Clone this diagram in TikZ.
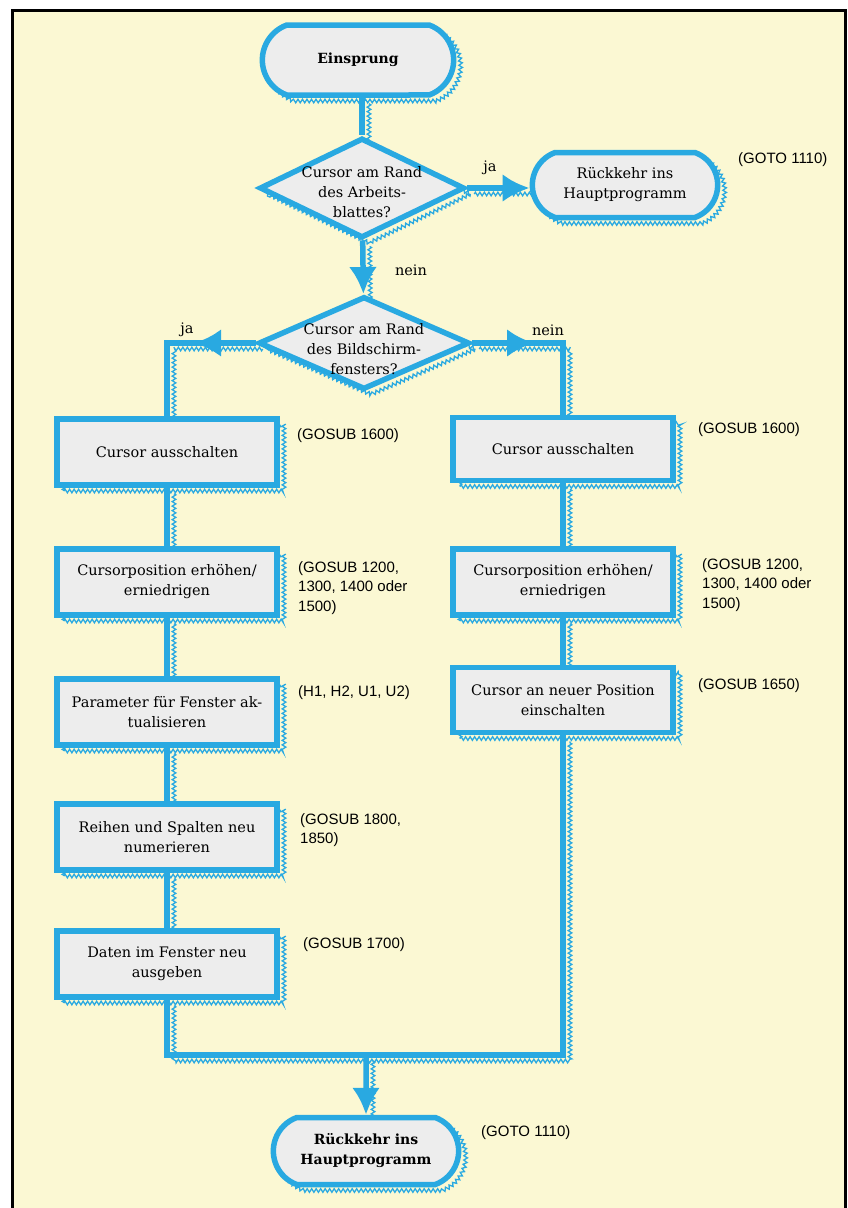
\documentclass[tikz,border=0pt]{standalone}
\usepackage{fontspec}
\usepackage{tikz}
\usetikzlibrary{arrows.meta,shapes.geometric,shapes.misc,decorations.pathmorphing,decorations.markings}
\newfontfamily\notefont{Liberation Sans}
\newfontfamily\boxfont{DejaVu Serif}
\definecolor{flow}{HTML}{29A9E1}
\definecolor{boxfill}{HTML}{EDEDED}
\definecolor{paper}{HTML}{FBF8D3}
\pgfdeclarelayer{links}
\pgfsetlayers{links,main}

\begin{document}
\begin{tikzpicture}[x=1pt,y=-1pt,
  jag/.style={preaction={draw=flow,fill=none,arrows=-,line width=1.3pt,
      decorate,decoration={zigzag,segment length=4.5pt,amplitude=1.8pt},
      transform canvas={shift={(7pt,-6pt)}}}},
  box/.style={rectangle,draw=flow,fill=boxfill,line width=5.5pt,jag,
      minimum width=220pt,minimum height=66pt,align=center,
      font=\boxfont\fontsize{14.5}{20}\selectfont},
  term/.style={box,rounded rectangle,rounded rectangle arc length=140,
      minimum width=192pt,minimum height=67pt},
  boldterm/.style={term,font=\boxfont\bfseries\fontsize{14}{20}\selectfont},
  decision/.style={box,diamond,inner sep=0pt},
  inbox/.style={align=center,inner sep=0pt,font=\boxfont\fontsize{14.5}{20}\selectfont},
  note/.style={anchor=north west,inner sep=0pt,align=left,
      font=\notefont\fontsize{15}{19.5}\selectfont},
  answer/.style={inner sep=0pt,font=\boxfont\fontsize{14.5}{20}\selectfont},
  link/.style={draw=flow,line width=5.5pt,jag},
  tip/.style={-{Latex[length=27pt,width=28pt]}},
  midtip/.style={postaction={decorate,decoration={markings,
      mark=at position #1 with {\arrow{Latex[length=27pt,width=28pt]}}}}}]
  \useasboundingbox (0,0) rectangle (848,1208);
  \begin{pgfonlayer}{links}
    \fill[white] (0,0) rectangle (848,1208);
    \fill[paper] (12,10) rectangle (845,1208);
    \draw[line width=3pt] (12,1208) -- (12,10) -- (845,10) -- (845,1208);
  \end{pgfonlayer}

  % main axis
  \node[boldterm,minimum width=198pt,minimum height=70pt] (start) at (358,60) {Einsprung};
  \node[decision,minimum width=205pt,minimum height=100pt] (d1) at (362,188) {};
  \node[inbox] (d1text) at ([yshift=-4pt]d1.center) {Cursor am Rand\\des Arbeits-\\blattes?};
  \node[term,minimum height=65pt] (back) at (625,185) {Rückkehr ins\\Hauptprogramm};
  \node[decision,minimum width=211pt,minimum height=93pt] (d2) at (364,343) {};
  \node[inbox] (d2text) at ([yshift=-6pt]d2.center) {Cursor am Rand\\des Bildschirm-\\fensters?};

  % left column
  \node[box] (l1) at (167,452) {Cursor ausschalten};
  \node[box] (l2) at (167,582) {Cursorposition erhöhen/\\erniedrigen};
  \node[box] (l3) at (167,712) {Parameter für Fenster ak-\\tualisieren};
  \node[box] (l4) at (167,837) {Reihen und Spalten neu\\numerieren};
  \node[box] (l5) at (167,964) {Daten im Fenster neu\\ausgeben};

  % right column
  \node[box,minimum height=63pt] (r1) at (563,449) {Cursor ausschalten};
  \node[box] (r2) at (563,582) {Cursorposition erhöhen/\\erniedrigen};
  \node[box,minimum height=65pt] (r3) at (563,700) {Cursor an neuer Position\\einschalten};

  \node[boldterm] (stop) at (366,1151) {Rückkehr ins\\Hauptprogramm};
  \coordinate (m) at (366,1055);

  % answers
  \node[answer] (ja1) at (490,168) {ja};
  \node[answer] (nein1) at (411,270) {nein};
  \node[answer] (ja2) at (187,330) {ja};
  \node[answer] (nein2) at (548,330) {nein};

  % line numbers
  \node[note] (nback) at (738,152) {(GOTO 1110)};
  \node[note] (nl1) at (297,428) {(GOSUB 1600)};
  \node[note] (nl2) at (298,561) {(GOSUB 1200,\\1300, 1400 oder\\1500)};
  \node[note] (nl3) at (298,685) {(H1, H2, U1, U2)};
  \node[note] (nl4) at (300,813) {(GOSUB 1800,\\1850)};
  \node[note] (nl5) at (303,937) {(GOSUB 1700)};
  \node[note] (nr1) at (698,422) {(GOSUB 1600)};
  \node[note] (nr2) at (702,558) {(GOSUB 1200,\\1300, 1400 oder\\1500)};
  \node[note] (nr3) at (698,678) {(GOSUB 1650)};
  \node[note] (nstop) at (481,1125) {(GOTO 1110)};

  \begin{pgfonlayer}{links}
    \draw[link] (d1.north |- start.south) -- (d1.north);
    \draw[link,tip] (d1.east) -- (d1.east -| back.west);
    \draw[link,tip] (d1) -- (d2);
    \draw[link,midtip=0.38] (d2.west) -| (l1.north);
    \draw[link,midtip=0.38] (d2.east) -| (r1.north);
    \draw[link] (l1) -- (l2);
    \draw[link] (l2) -- (l3);
    \draw[link] (l3) -- (l4);
    \draw[link] (l4) -- (l5);
    \draw[link] (r1) -- (r2);
    \draw[link] (r2) -- (r3);
    \draw[link] (l5.south) |- (m) -| (r3.south);
    \draw[link,tip] (m) -- (stop);
  \end{pgfonlayer}
\end{tikzpicture}
\end{document}
